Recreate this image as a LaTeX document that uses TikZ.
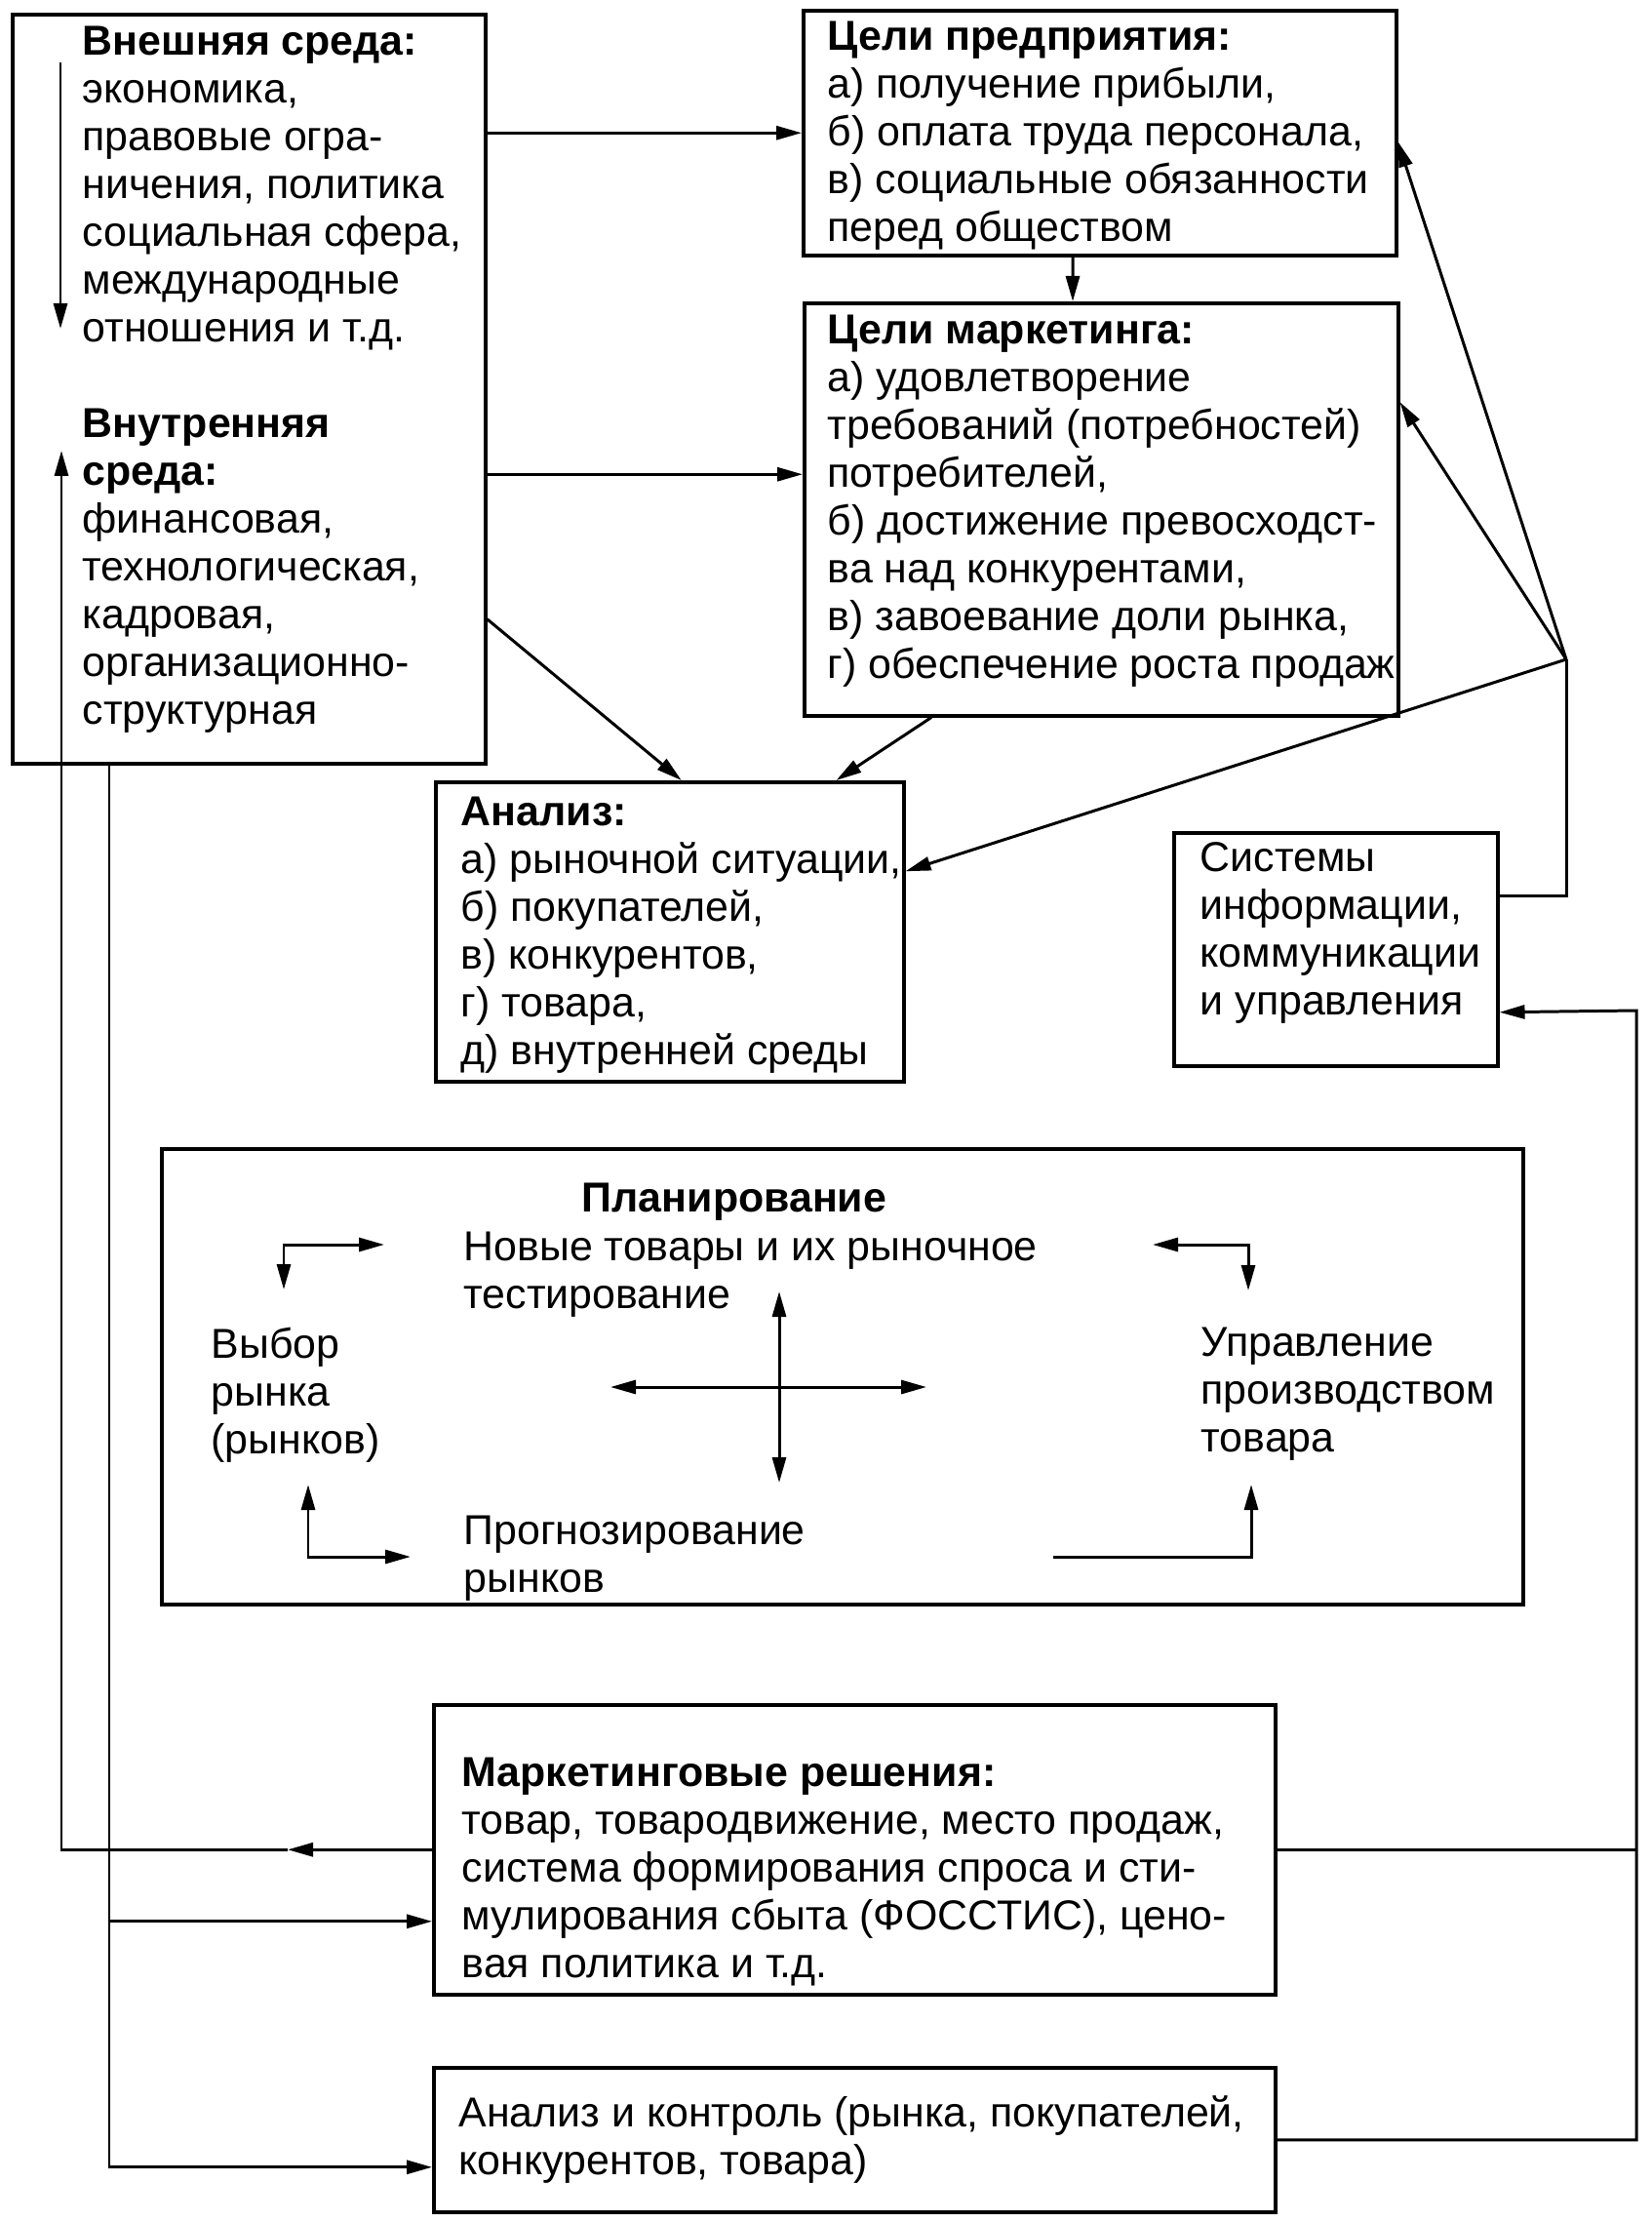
\documentclass[tikz,border=0pt]{standalone}
\usepackage{fontspec}
\setmainfont{Liberation Sans}
\usepackage{tikz}
\usetikzlibrary{calc}
\usetikzlibrary{positioning}
\usetikzlibrary{arrows.meta}
\newcommand{\diagfont}{\fontsize{12.2}{13.95}\selectfont}

\begin{document}
\begin{tikzpicture}[
  box/.style={draw, line width=1pt, inner sep=0pt, anchor=north west},
  txt/.style={align=left, inner sep=0pt, anchor=north west, font=\diagfont},
  conn/.style={line width=0.85pt, -{Triangle[length=0.26cm,width=0.14cm]}},
  dconn/.style={line width=0.85pt, {Triangle[length=0.26cm,width=0.14cm]}-{Triangle[length=0.26cm,width=0.14cm]}},
  wire/.style={line width=0.85pt}
]
  \path[use as bounding box, fill=white] (0,0) rectangle (16.93,-22.78);

  % boxes
  \node[box, minimum width=4.85cm, minimum height=7.68cm] (env) at (0.11,-0.13) {};
  \node[box, minimum width=6.08cm, minimum height=2.51cm] (goals) at (8.22,-0.09) {};
  \node[box, minimum width=6.09cm, minimum height=4.23cm] (mgoals) at (8.23,-3.09) {};
  \node[box, minimum width=4.80cm, minimum height=3.07cm] (analysis) at (4.45,-8.00) {};
  \node[box, minimum width=3.32cm, minimum height=2.39cm] (infosys) at (12.02,-8.52) {};
  \node[box, minimum width=13.96cm, minimum height=4.67cm] (plan) at (1.64,-11.76) {};
  \node[box, minimum width=8.63cm, minimum height=2.97cm] (decisions) at (4.43,-17.46) {};
  \node[box, minimum width=8.63cm, minimum height=1.48cm] (control) at (4.43,-21.18) {};

  % texts
  \node[txt] (envtxt) at (0.84,-0.26) {\textbf{Внешняя среда:}\\ экономика,\\ правовые огра-\\ ничения, политика\\ социальная сфера,\\ международные\\ отношения и т.д.\\[0.49cm] \textbf{Внутренняя}\\ \textbf{среда:}\\ финансовая,\\ технологическая,\\ кадровая,\\ организационно-\\ структурная};
  \node[txt] (goalstxt) at (8.48,-0.21) {\textbf{Цели предприятия:}\\ а) получение прибыли,\\ б) оплата труда персонала,\\ в) социальные обязанности\\ перед обществом};
  \node[txt] (mgoalstxt) at (8.48,-3.22) {\textbf{Цели маркетинга:}\\ а) удовлетворение\\ требований (потребностей)\\ потребителей,\\ б) достижение превосходст-\\ ва над конкурентами,\\ в) завоевание доли рынка,\\ г) обеспечение роста продаж};
  \node[txt] (analysistxt) at (4.72,-8.16) {\textbf{Анализ:}\\ а) рыночной ситуации,\\ б) покупателей,\\ в) конкурентов,\\ г) товара,\\ д) внутренней среды};
  \node[txt] (infotxt) at (12.30,-8.63) {Системы\\ информации,\\ коммуникации\\ и управления};
  \node[txt, anchor=north] (plantitle) at (7.53,-12.12) {\textbf{Планирование}};
  \node[txt] (newprod) at (4.75,-12.62) {Новые товары и их рыночное\\ тестирование};
  \node[txt] (choice) at (2.16,-13.60) {Выбор\\ рынка\\ (рынков)};
  \node[txt] (prodmgmt) at (12.31,-13.60) {Управление\\ производством\\ товара};
  \node[txt] (forecast) at (4.75,-15.53) {Прогнозирование\\ рынков};
  \node[txt] (decisionstxt) at (4.73,-18.01) {\textbf{Маркетинговые решения:}\\ товар, товародвижение, место продаж,\\ система формирования спроса и сти-\\ мулирования сбыта (ФОССТИС), цено-\\ вая политика и т.д.};
  \node[txt] (controltxt) at (4.70,-21.48) {Анализ и контроль (рынка, покупателей,\\ конкурентов, товара)};

  % connectors at the top
  \draw[conn] ($(env.north west)+(0.51,-0.51)$) -- ($(env.north west)+(0.51,-3.24)$);
  \draw[conn] (env.east |- goals.west) -- (goals.west);
  \draw[conn] ($(env.east |- mgoals.west)+(0,0.36)$) -- ([yshift=0.36cm]mgoals.west);
  \draw[conn] ([yshift=-2.36cm]env.east) -- ([xshift=0.12cm]analysis.north);
  \draw[conn] ([xshift=2.78cm]goals.south west) -- ([xshift=2.77cm]mgoals.north west);
  \draw[conn] ([xshift=1.32cm]mgoals.south west) -- ([xshift=-0.71cm]analysis.north east);

  % information systems
  \coordinate (hub) at (16.06,-6.76);
  \draw[wire] ([yshift=0.55cm]infosys.east) -| (hub);
  \draw[conn] (hub) -- ([yshift=-0.09cm]goals.east);
  \draw[conn] (hub) -- ([yshift=1.1cm]mgoals.east);
  \draw[conn] (hub) -- ([yshift=0.62cm]analysis.east);

  % planning
  \coordinate (tlA) at (2.91,-13.22);
  \coordinate (tlB) at (3.94,-12.76);
  \coordinate (trA) at (11.82,-12.76);
  \coordinate (trB) at (12.80,-13.23);
  \coordinate (blA) at (3.16,-15.22);
  \coordinate (blB) at (4.21,-15.96);
  \coordinate (brA) at (10.80,-15.96);
  \coordinate (brB) at (12.83,-15.22);
  \draw[dconn] (tlA) |- (tlB);
  \draw[dconn] (trA) -| (trB);
  \draw[dconn] (blA) |- (blB);
  \draw[conn] (brA) -| (brB);
  \draw[dconn] (6.26,-14.22) -- (9.50,-14.22);
  \draw[dconn] (7.99,-13.24) -- (7.99,-15.20);

  % feedback on the left
  \coordinate (lbus) at (0.63,-4.62);
  \coordinate (lmid) at ($(decisions.west)+(-1.48,0)$);
  \draw[conn] (decisions.west) -- (lmid);
  \draw[conn] (lmid) -| (lbus);
  \draw[conn] ([xshift=1.01cm]env.south west) |- ([yshift=-0.28cm]control.west);
  \draw[conn] ($(env.south west |- decisions.west)+(1.01,-0.735)$) -- ([yshift=-0.735cm]decisions.west);

  % feedback on the right
  \coordinate (rbus) at (16.78,-10.36);
  \draw[wire] (decisions.east) -- (decisions.east -| rbus);
  \draw[conn] (control.east) -| (rbus) -- ([yshift=-0.645cm]infosys.east);
\end{tikzpicture}
\end{document}
